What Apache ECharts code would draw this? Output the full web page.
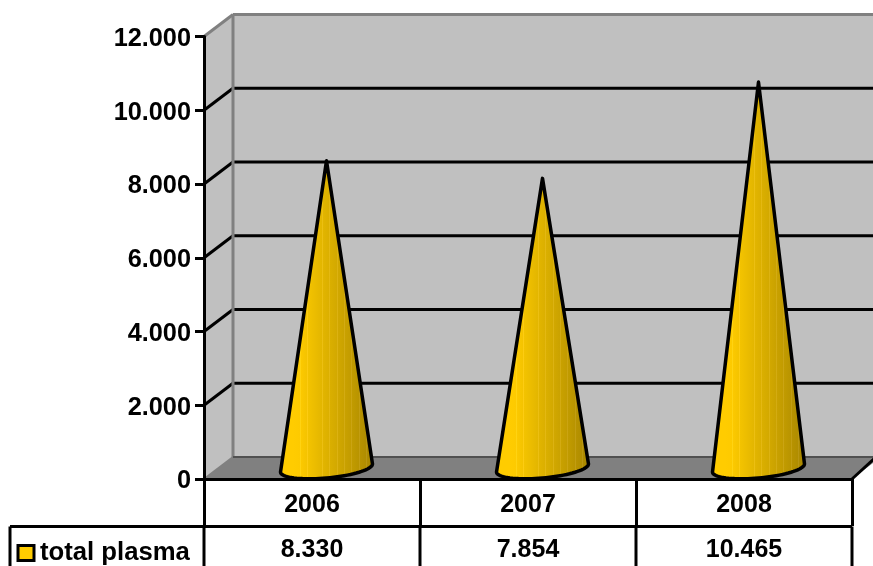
<!DOCTYPE html>
<html><head><meta charset="utf-8">
<style>html,body{margin:0;padding:0;background:#fff;overflow:hidden}#c{width:873px;height:566px}</style>
<script src="https://cdn.jsdelivr.net/npm/echarts@6/dist/echarts.min.js"></script>
</head><body><div id="c"></div>
<script>
const categories = ['2006', '2007', '2008'];
const seriesName = 'total plasma';
const plasmaValues = [8330, 7854, 10465];
const yTicks = [0, 2000, 4000, 6000, 8000, 10000, 12000];

const FONT = '"Liberation Sans", Arial, sans-serif';
const DX = 29, DY = -22;
const fmt = v => String(v).replace(/\B(?=(\d{3})+$)/g, '.');

const chart = echarts.init(document.getElementById('c'), null, {renderer: 'canvas'});

function line(x1, y1, x2, y2, color, w, z2) {
  return {type: 'line', z2: z2 || 0, shape: {x1, y1, x2, y2},
    style: {stroke: color, lineWidth: w, lineCap: 'butt'}};
}

function renderWalls(params, api) {
  const cs = params.coordSys;
  const l = cs.x, r = cs.x + cs.width;
  const y0 = api.coord([0, 0])[1], yT = api.coord([0, 12000])[1];
  const kids = [
    {type: 'polygon', shape: {points: [[l + DX, yT + DY], [r + DX, yT + DY], [r + DX, y0 + DY], [l + DX, y0 + DY]]},
      style: {fill: '#c0c0c0'}},
    {type: 'polygon', shape: {points: [[l, yT], [l + DX, yT + DY], [l + DX, y0 + DY], [l, y0]]},
      style: {fill: '#c0c0c0'}},
    {type: 'polygon', shape: {points: [[l, y0], [l + DX, y0 + DY], [r + DX, y0 + DY], [r, y0]]},
      style: {fill: '#808080'}}
  ];
  yTicks.slice(1, -1).forEach(t => {
    const y = api.coord([0, t])[1];
    kids.push(line(l, y, l + DX, y + DY, '#000', 3));
    kids.push(line(l + DX, y + DY, r + DX, y + DY, '#000', 3));
  });
  kids.push(line(l, yT, l + DX, yT + DY, '#808080', 3));
  kids.push(line(l + DX, yT + DY, r + DX, yT + DY, '#808080', 3));
  kids.push(line(l + DX, yT + DY, l + DX, y0 + DY, '#808080', 3));
  kids.push(line(l, y0, l + DX, y0 + DY, '#808080', 2));
  kids.push(line(l + DX, y0 + DY, r + DX, y0 + DY, '#505050', 2));
  kids.push(line(r, y0, r + 24, y0 + DY, '#000', 3));
  return {type: 'group', children: kids};
}

function coneStops() {
  const anchors = [[0, [255, 204, 0]], [0.2, [255, 204, 0]], [0.5, [222, 178, 0]], [0.8, [190, 152, 0]], [1, [165, 132, 0]]];
  const at = p => {
    for (let i = 1; i < anchors.length; i++) {
      if (p <= anchors[i][0]) {
        const a = anchors[i - 1], b = anchors[i], k = (p - a[0]) / (b[0] - a[0]);
        return a[1].map((c, j) => Math.round(c + (b[1][j] - c) * k));
      }
    }
    return anchors[anchors.length - 1][1];
  };
  const rgb = c => 'rgb(' + c.join(',') + ')';
  const stops = [];
  const n = 13;
  for (let i = 0; i < n; i++) {
    const p0 = i / n, w = 1 / n, s = p0 + w * 0.88;
    const lift = p0 < 0.15 ? 0 : 9;
    const light = rgb(at(s).map((c, j) => Math.min(255, c + (j === 2 ? lift * 2 : lift))));
    stops.push({offset: p0, color: rgb(at(p0))});
    stops.push({offset: s, color: rgb(at(s))});
    stops.push({offset: s + 0.0001, color: light});
    stops.push({offset: p0 + w - 0.0001, color: light});
  }
  return stops;
}

function renderCone(params, api) {
  const top = api.coord([api.value(0), api.value(1)]);
  const base = api.coord([api.value(0), 0]);
  const cx = base[0] + DX / 2, by = base[1] + DY / 2, ty = top[1] + DY / 2;
  const pts = [[cx, ty]];
  for (let i = 0; i <= 40; i++) {
    const t = Math.PI * i / 40;
    pts.push([cx + 46 * Math.cos(t), by - 4 * Math.cos(t) + 10 * Math.sin(t)]);
  }
  return {type: 'polygon', shape: {points: pts},
    style: {fill: new echarts.graphic.LinearGradient(0, 0, 1, 0, coneStops()), stroke: '#000', lineWidth: 3.5, lineJoin: 'round'}};
}

function renderTable(params, api) {
  const cs = params.coordSys;
  const l = cs.x, r = cs.x + cs.width;
  const y0 = cs.y + cs.height;
  const c = api.coord([api.value(0), 0]);
  const kids = [{type: 'text', z2: 5, style: {
    x: c[0], y: y0 + 71, text: fmt(api.value(1)), fill: '#000',
    font: 'bold 25px ' + FONT, textAlign: 'center', textVerticalAlign: 'middle'}}];
  if (params.dataIndex === 0) {
    kids.push(line(10, y0 + 47.5, r, y0 + 47.5, '#000', 3));
    kids.push(line(10, y0 + 47.5, 10, 566, '#000', 3));
    [0, 1, 2, 3].forEach(i => {
      const x = l + cs.width * i / 3;
      kids.push(line(x, y0 + 47.5, x, 566, '#000', 3));
    });
  }
  return {type: 'group', children: kids};
}

chart.setOption({
  animation: false,
  backgroundColor: '#fff',
  grid: {left: 204, right: 21, top: 36.5, bottom: 87, containLabel: false},
  legend: {
    show: true, left: 11.5, top: 540, padding: [0, 0, 0, 5], itemWidth: 16, itemHeight: 15, itemGap: 5.5,
    data: [{name: seriesName, icon: 'rect', itemStyle: {color: '#ffcc00', borderColor: '#000', borderWidth: 3}}],
    textStyle: {fontFamily: FONT, fontWeight: 'bold', fontSize: 25.7, color: '#000', padding: [4, 0, 0, 1]}
  },
  xAxis: {
    type: 'category', data: categories, z: 5,
    axisLine: {show: true, lineStyle: {color: '#000', width: 3}},
    axisTick: {show: true, length: 47, lineStyle: {color: '#000', width: 3}},
    axisLabel: {margin: 14, fontFamily: FONT, fontWeight: 'bold', fontSize: 25, color: '#000'},
    splitLine: {show: false}
  },
  yAxis: {
    type: 'value', min: 0, max: 12000, interval: 2000, z: 5,
    axisLine: {show: true, lineStyle: {color: '#000', width: 3}},
    axisTick: {show: true, length: 9, lineStyle: {color: '#000', width: 3}},
    axisLabel: {margin: 13, verticalAlign: 'top', lineHeight: 5, fontFamily: FONT, fontWeight: 'bold', fontSize: 25.3, color: '#000', formatter: fmt},
    splitLine: {show: false}
  },
  series: [
    {type: 'custom', name: 'walls', silent: true, clip: false, z: 1, renderItem: renderWalls, data: [0], encode: {x: 0}},
    {type: 'custom', name: 'table', silent: true, clip: false, z: 3, renderItem: renderTable,
      data: plasmaValues.map((v, i) => [i, v]), encode: {x: 0, y: 1}},
    {type: 'custom', name: seriesName, silent: true, clip: false, z: 7, renderItem: renderCone,
      itemStyle: {color: '#ffcc00'},
      data: plasmaValues.map((v, i) => [i, v]), encode: {x: 0, y: 1}}
  ]
});
</script></body></html>
